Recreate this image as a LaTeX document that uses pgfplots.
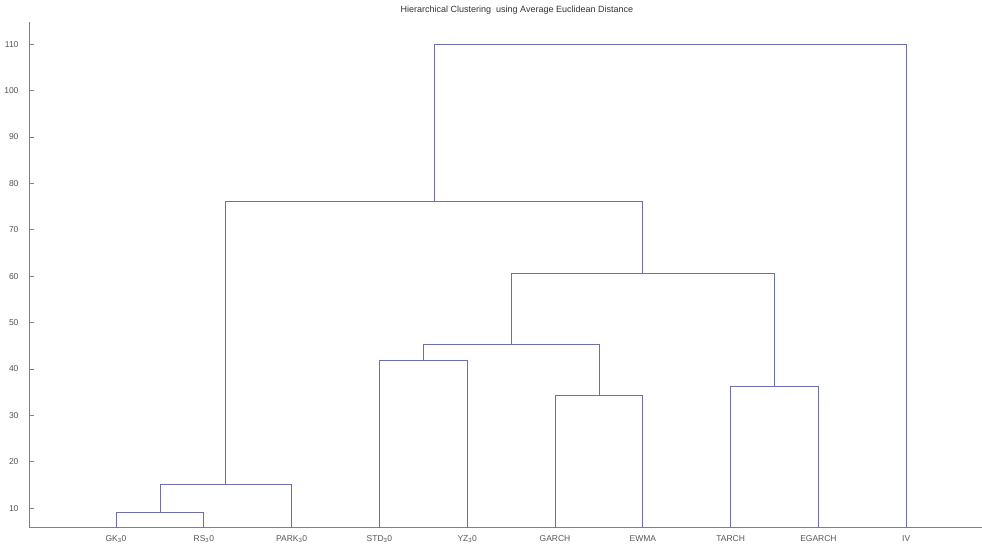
\documentclass[border=0pt]{standalone}
\usepackage{pgfplots}
\pgfplotsset{compat=1.18}
\usepackage{fontspec}
\setmainfont{Liberation Sans}
\definecolor{dendro}{RGB}{110,110,175}
\definecolor{axgray}{RGB}{128,128,128}
\definecolor{lblgray}{RGB}{85,85,85}
\tikzset{dl/.style={draw=dendro, line width=0.8pt, mark=none, solid}}
\begin{document}
\begin{tikzpicture}[x=1pt,y=1pt]
\useasboundingbox (-29,-23) rectangle (953,527);
\begin{axis}[
  scale only axis,
  width=953pt, height=505pt,
  xmin=0.009, xmax=10.863,
  ymin=5.95, ymax=114.8,
  axis x line=bottom, axis y line=left,
  axis line style={-, draw=axgray, line width=0.8pt},
  xtick={1,2,3,4,5,6,7,8,9,10},
  xticklabels={GK\textsubscript{3}0,RS\textsubscript{3}0,PARK\textsubscript{3}0,STD\textsubscript{3}0,YZ\textsubscript{3}0,GARCH,EWMA,TARCH,EGARCH,IV},
  ytick={10,20,30,40,50,60,70,80,90,100,110},
  x tick style={draw=none},
  y tick style={draw=axgray, line width=0.8pt},
  tick align=inside,
  major tick length=5pt,
  tick label style={font=\fontsize{8.5}{9.5}\selectfont, text=lblgray},
  /pgf/number format/assume math mode=true,
  xticklabel style={yshift=-5pt},
  yticklabel style={xshift=-7pt},
  title={Hierarchical Clustering\ \ using Average Euclidean Distance},
  title style={at={(axis description cs:0.512,1)}, anchor=base, yshift=3pt, font=\fontsize{9}{10}\selectfont, text=black!80},
  clip=true,
]
\addplot[dl] coordinates {(1,0) (1,9.0) (2,9.0) (2,0)};
\addplot[dl] coordinates {(1.5,9.0) (1.5,15.2) (3,15.2) (3,0)};
\addplot[dl] coordinates {(4,0) (4,41.9) (5,41.9) (5,0)};
\addplot[dl] coordinates {(6,0) (6,34.3) (7,34.3) (7,0)};
\addplot[dl] coordinates {(4.5,41.9) (4.5,45.3) (6.5,45.3) (6.5,34.3)};
\addplot[dl] coordinates {(8,0) (8,36.2) (9,36.2) (9,0)};
\addplot[dl] coordinates {(5.5,45.3) (5.5,60.6) (8.5,60.6) (8.5,36.2)};
\addplot[dl] coordinates {(2.25,15.2) (2.25,76.1) (7,76.1) (7,60.6)};
\addplot[dl] coordinates {(4.625,76.1) (4.625,110) (10,110) (10,0)};
\end{axis}
\end{tikzpicture}
\end{document}
